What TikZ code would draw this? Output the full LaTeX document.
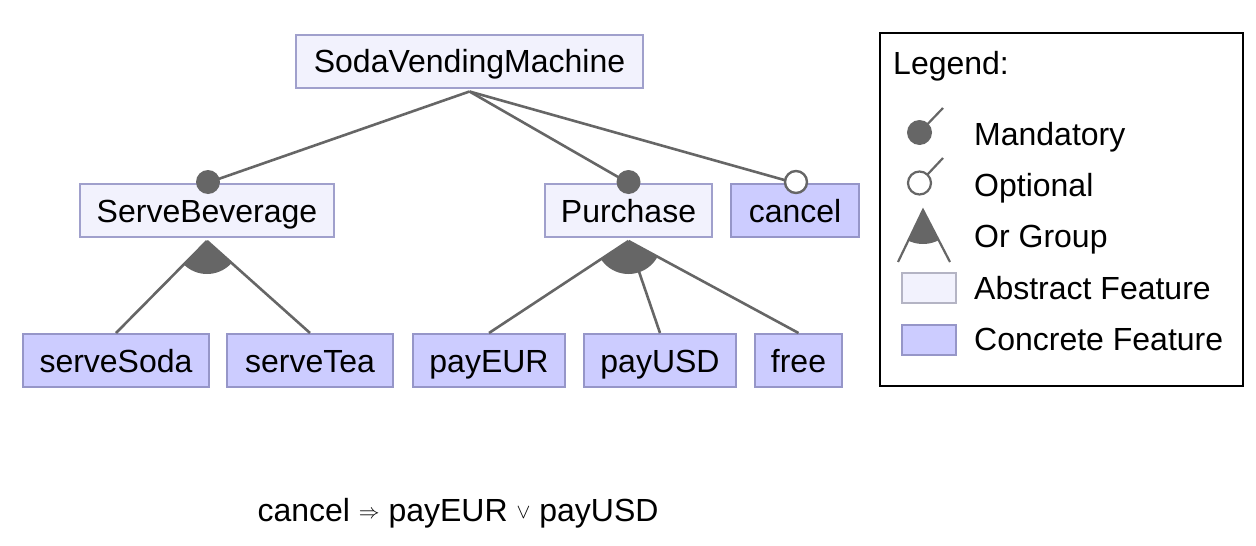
\documentclass[tikz,border=0pt]{standalone}
\usepackage{fontspec}
\setmainfont{Liberation Sans}
\usetikzlibrary{calc}
\definecolor{absfill}{RGB}{242,242,253}
\definecolor{absdraw}{RGB}{160,160,204}
\definecolor{legabsdraw}{RGB}{180,180,196}
\definecolor{confill}{RGB}{204,204,255}
\definecolor{condraw}{RGB}{150,150,200}
\definecolor{edgec}{RGB}{102,102,102}
\newcommand{\smallsym}[1]{\raisebox{3pt}{\fontsize{20}{20}\selectfont$#1$}}
\begin{document}
\begin{tikzpicture}[x=1pt,y=-1pt,
  lbl/.style={font=\fontsize{32}{36}\selectfont, text height=23pt, text depth=0pt, inner sep=0pt},
  feat/.style={lbl, draw, line width=2pt, minimum height=53pt},
  absf/.style={feat, fill=absfill, draw=absdraw},
  conf/.style={feat, fill=confill, draw=condraw},
  edge/.style={draw=edgec, line width=2.6pt},
  mandc/.style={fill=edgec},
  optc/.style={fill=white, draw=edgec, line width=2.4pt}
]
\useasboundingbox (0,0) rectangle (1256,546);

% features
\node[absf, minimum width=347pt] (svm) at (469.5,61) {SodaVendingMachine};
\node[absf, minimum width=254pt] (sb) at (207,210.5) {ServeBeverage};
\node[absf, minimum width=167pt] (pu) at (628.5,210.5) {Purchase};
\node[conf, minimum width=128pt] (ca) at (795,210.5) {cancel};
\node[conf, minimum width=186pt] (ss) at (116,360.5) {serveSoda};
\node[conf, minimum width=166pt] (st) at (310,360.5) {serveTea};
\node[conf, minimum width=152pt] (pe) at (489,360.5) {payEUR};
\node[conf, minimum width=152pt] (pd) at (660,360.5) {payUSD};
\node[conf, minimum width=87pt] (fr) at (798.5,360.5) {free};

\coordinate (svmb) at ($(svm.south)+(0,3)$);
\coordinate (sbb) at ($(sb.south)+(0,3)$);
\coordinate (pub) at ($(pu.south)+(0,3)$);

% or groups
\begin{scope}
  \clip (sbb) -- (ss.north) -- (st.north) -- cycle;
  \fill[edgec] (sbb) circle (33);
\end{scope}
\begin{scope}
  \clip (pub) -- (pe.north) -- (fr.north) -- cycle;
  \fill[edgec] (pub) circle (33);
\end{scope}
\draw[edge] (sbb) -- (ss.north);
\draw[edge] (sbb) -- (st.north);
\draw[edge] (pub) -- (pe.north);
\draw[edge] (pub) -- (pd.north);
\draw[edge] (pub) -- (fr.north);

% root edges
\draw[edge] (svmb) -- (sb.north);
\draw[edge] (svmb) -- (pu.north);
\draw[edge] (svmb) -- (ca.north);
\fill[mandc] ($(sb.north)+(1,-1)$) circle (12);
\fill[mandc] ($(pu.north)+(0,-1)$) circle (12);
\filldraw[optc] ($(ca.north)+(1,-1)$) circle (11);

% constraint
\node[lbl] (cons) at (458,510) {cancel \smallsym{\Rightarrow} payEUR \smallsym{\vee} payUSD};

% legend
\node[draw=black, line width=2pt, minimum width=363pt, minimum height=353pt, inner sep=0pt] (leg) at (1061.5,209.5) {};
\node[lbl, anchor=west] (legt) at (893,63) {Legend:};
\node[lbl, anchor=west] (lm) at (974,134) {Mandatory};
\node[lbl, anchor=west] (lo) at (974,185) {Optional};
\node[lbl, anchor=west] (lg) at (974,236) {Or Group};
\node[lbl, anchor=west] (la) at (974,288) {Abstract Feature};
\node[lbl, anchor=west] (lc) at (974,339) {Concrete Feature};

\coordinate (mc) at (919.5,132.5);
\coordinate (mt) at (943,108);
\draw[edge, line width=2.2pt] (mc) -- (mt);
\fill[mandc] (mc) circle (12.5);
\coordinate (oc) at (919.5,183);
\coordinate (ot) at (943,158);
\draw[edge, line width=2.2pt] (oc) -- (ot);
\filldraw[optc, line width=2.2pt] (oc) circle (11.5);

\coordinate (ga) at (923,210);
\coordinate (gl) at (898,262);
\coordinate (gr) at (950,262);
\begin{scope}
  \clip (ga) -- (gl) -- (gr) -- cycle;
  \fill[edgec] (ga) circle (34);
\end{scope}
\draw[edge, line width=2.2pt] (gl) -- (ga) -- (gr);

\node[draw=legabsdraw, fill=absfill, line width=2pt, minimum width=54pt, minimum height=30pt, inner sep=0pt] (lab) at (928.5,288) {};
\node[draw=condraw, fill=confill, line width=2pt, minimum width=54pt, minimum height=30pt, inner sep=0pt] (lcb) at (928.5,339.5) {};
\end{tikzpicture}
\end{document}
